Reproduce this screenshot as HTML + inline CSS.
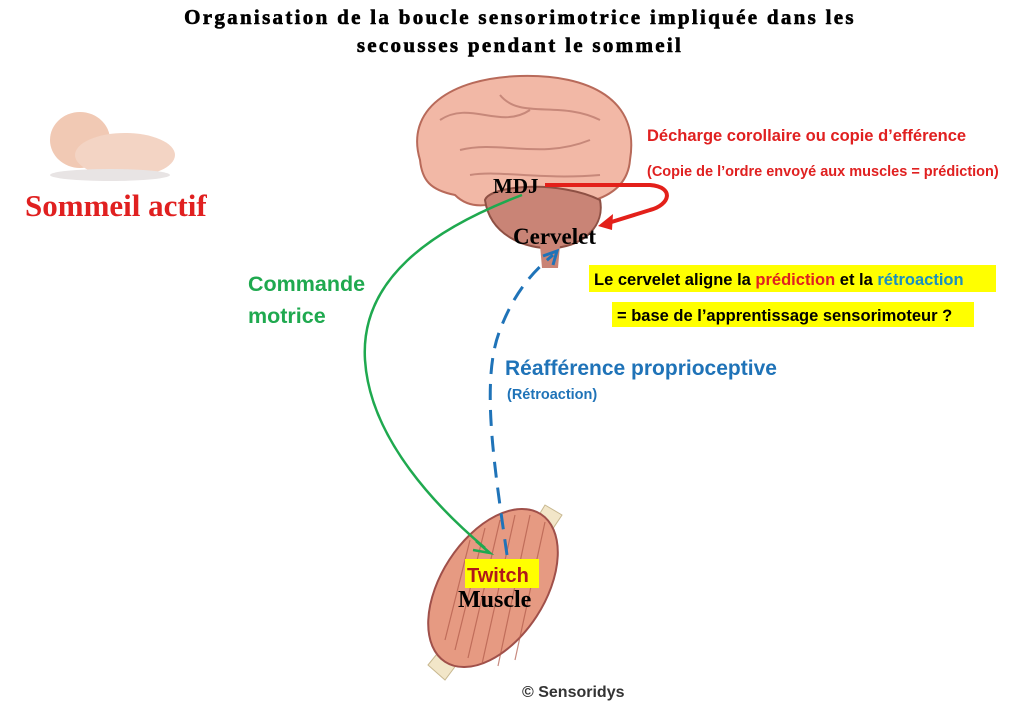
<!DOCTYPE html>
<html><head><meta charset="utf-8"><style>
body{margin:0;background:#fff}
svg{display:block}
.s{font-family:"Liberation Sans",sans-serif;font-weight:bold}
.r{font-family:"Liberation Serif",serif;font-weight:bold}
</style></head><body>
<svg width="1024" height="710" viewBox="0 0 1024 710" xmlns="http://www.w3.org/2000/svg">
<text x="520" y="24" class="r" font-size="21" letter-spacing="2.3" text-anchor="middle" fill="#000" stroke="#000" stroke-width="0.6">Organisation de la boucle sensorimotrice impliquée dans les</text>
<text x="520" y="52" class="r" font-size="21" letter-spacing="2.3" text-anchor="middle" fill="#000" stroke="#000" stroke-width="0.6">secousses pendant le sommeil</text>
<!-- baby -->
<ellipse cx="80" cy="140" rx="30" ry="28" fill="#f1c9b4"/>
<ellipse cx="125" cy="155" rx="50" ry="22" fill="#f3d4c4"/>
<ellipse cx="110" cy="175" rx="60" ry="6" fill="#e8e4e4"/>
<text x="25" y="216" class="r" font-size="31" fill="#e02020">Sommeil actif</text>
<!-- brain -->
<path d="M420 160 C405 110 450 78 520 76 C590 74 640 100 630 160 C628 185 610 195 595 200 L505 200 C480 210 465 205 455 195 C430 190 422 180 420 160Z" fill="#f2b8a6" stroke="#b86a5a" stroke-width="2"/>
<path d="M440 120 C470 100 500 130 530 110 M460 150 C500 140 540 160 590 140 M500 95 C520 120 560 100 600 120 M470 175 C500 170 540 180 600 175" stroke="#c7887a" stroke-width="2" fill="none"/>
<path d="M485 200 C490 185 560 180 600 200 C605 225 585 245 555 248 C525 250 490 235 485 200Z" fill="#c98476" stroke="#8e5044" stroke-width="2"/>
<path d="M540 245 L560 245 L558 268 L542 268Z" fill="#c98476"/>
<text x="493" y="193" class="r" font-size="21">MDJ</text>
<text x="513" y="244" class="r" font-size="23">Cervelet</text>
<!-- red arrow -->
<path d="M545 185 L650 185 C675 187 670 205 650 210 L605 224" stroke="#e3201a" stroke-width="4" fill="none"/>
<path d="M598 226 L613 214 L612 230Z" fill="#e3201a"/>
<text x="647" y="141" class="s" font-size="16.5" fill="#e02020">Décharge corollaire ou copie d’efférence</text>
<text x="647" y="176" class="s" font-size="14.5" fill="#e02020">(Copie de l’ordre envoyé aux muscles = prédiction)</text>
<rect x="589" y="265" width="407" height="27" fill="#ffff00"/>
<text x="594" y="285" class="s" font-size="16.5" fill="#000">Le cervelet aligne la <tspan fill="#e02020">prédiction</tspan> et la <tspan fill="#1a8fc0">rétroaction</tspan></text>
<rect x="612" y="302" width="362" height="25" fill="#ffff00"/>
<text x="617" y="321" class="s" font-size="16.5" fill="#000">= base de l’apprentissage sensorimoteur ?</text>
<text x="248" y="291" class="s" font-size="21.5" fill="#1fa94f">Commande</text>
<text x="248" y="323" class="s" font-size="21.5" fill="#1fa94f">motrice</text>
<!-- muscle -->
<path d="M428 665 L445 680 L475 640 L458 628Z" fill="#f2e6c8" stroke="#c8b890"/>
<path d="M545 505 L562 515 L540 548 L525 538Z" fill="#f2e6c8" stroke="#c8b890"/>
<ellipse cx="493" cy="588" rx="52" ry="88" transform="rotate(33 493 588)" fill="#e69a82" stroke="#a0504a" stroke-width="2"/>
<g stroke="#b05a4a" stroke-width="1.2" opacity=".7">
<path d="M470 540 L445 640 M485 528 L455 650 M500 520 L468 658 M515 515 L482 664 M530 515 L498 666 M545 522 L515 660"/>
</g>
<!-- green -->
<path d="M522 195 C430 230 360 280 365 360 C370 440 440 510 485 548" stroke="#1fa94f" stroke-width="2.5" fill="none"/>
<path d="M476 541 L490 553 L473 550" stroke="#1fa94f" stroke-width="2.5" fill="none"/>
<!-- blue dashed -->
<path d="M507 555 C495 470 480 380 500 330 C515 290 535 270 553 255" stroke="#1f73b8" stroke-width="3" stroke-dasharray="16 10" fill="none"/>
<path d="M543 256 L557 251 L553 265" stroke="#1f73b8" stroke-width="3" fill="none"/>
<rect x="465" y="559" width="74" height="29" fill="#ffff00"/>
<text x="467" y="582" class="s" font-size="20" fill="#b0181a">Twitch</text>
<text x="458" y="607" class="r" font-size="24">Muscle</text>
<text x="505" y="375" class="s" font-size="21" fill="#1f73b8">Réafférence proprioceptive</text>
<text x="507" y="399" class="s" font-size="14.5" fill="#1f73b8">(Rétroaction)</text>
<text x="522" y="697" class="s" font-size="16" fill="#333">© Sensoridys</text>
</svg>
</body></html>
